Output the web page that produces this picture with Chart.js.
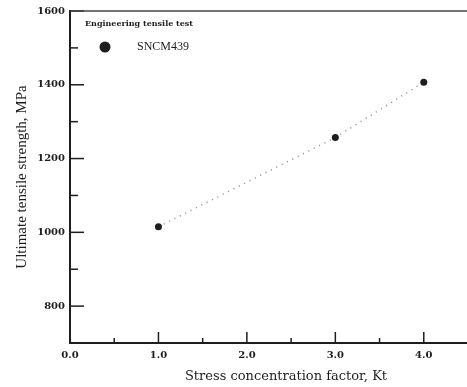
<!DOCTYPE html>
<html>
<head>
<meta charset="utf-8">
<script src="https://cdn.jsdelivr.net/npm/chart.js@4"></script>
<style>
  html, body { margin: 0; padding: 0; background: #fff; overflow: hidden; }
</style>
</head>
<body>
<canvas id="chart" width="474" height="387"></canvas>
<script>
// Dados
const kt = [1.0, 3.0, 4.0];
const uts = [1015, 1257, 1407];
const seriesName = "SNCM439";
const legendTitle = "Engineering tensile test";
const xTitle = "Stress concentration factor, Kt";
const yTitle = "Ultimate tensile strength, MPa";

const SERIF = "'Liberation Serif', 'Times New Roman', serif";
const WIDE_SERIF = "'DejaVu Serif', serif";
const INK = "#1e1e1e";

// Marcas de escala para dentro + linha superior + legenda interna + título do eixo x
const innerTicks = {
  id: "innerTicks",
  afterDraw(chart) {
    const { ctx, chartArea, scales } = chart;
    const x = scales.x;
    const y = scales.y;
    ctx.save();
    ctx.strokeStyle = INK;
    ctx.lineWidth = 1.5;

    for (let v = 700; v <= 1600; v += 100) {
      const py = y.getPixelForValue(v);
      const len = v % 200 === 0 ? 14 : 8;
      ctx.beginPath();
      ctx.moveTo(chartArea.left, py);
      ctx.lineTo(chartArea.left + len, py);
      ctx.stroke();
    }
    for (let v = 0.5; v < 4.5; v += 0.5) {
      const px = x.getPixelForValue(v);
      const len = Number.isInteger(v) ? 11 : 5;
      ctx.beginPath();
      ctx.moveTo(px, chartArea.bottom);
      ctx.lineTo(px, chartArea.bottom - len);
      ctx.stroke();
    }

    // linha superior
    ctx.strokeStyle = "#444";
    ctx.lineWidth = 1.5;
    ctx.beginPath();
    ctx.moveTo(chartArea.left, chartArea.top);
    ctx.lineTo(chartArea.right + 5, chartArea.top);
    ctx.stroke();

    // legenda
    ctx.fillStyle = INK;
    ctx.font = "bold 8px " + WIDE_SERIF;
    ctx.textBaseline = "middle";
    ctx.textAlign = "left";
    ctx.fillText(legendTitle, chartArea.left + 15, chartArea.top + 13);
    ctx.beginPath();
    ctx.arc(chartArea.left + 35, chartArea.top + 36, 5.5, 0, Math.PI * 2);
    ctx.fill();
    ctx.font = "12px " + SERIF;
    ctx.fillText(seriesName, chartArea.left + 67, chartArea.top + 36);

    // título do eixo x (deslocado para a direita como no original)
    ctx.font = "13px " + WIDE_SERIF;
    ctx.textAlign = "center";
    ctx.fillText(xTitle, chartArea.left + 216, chartArea.bottom + 34);
    ctx.restore();
  }
};

new Chart(document.getElementById("chart"), {
  type: "scatter",
  data: {
    datasets: [
      {
        label: seriesName,
        data: kt.map((k, i) => ({ x: k, y: uts[i] })),
        showLine: true,
        borderColor: "#8a8a8a",
        borderWidth: 1.5,
        borderDash: [1, 5],
        pointRadius: 3.5,
        pointBackgroundColor: INK,
        pointBorderColor: INK,
        pointBorderWidth: 0,
      },
    ],
  },
  options: {
    responsive: false,
    animation: false,
    layout: { padding: { top: 9, right: 0, left: 0, bottom: 0 } },
    plugins: {
      legend: { display: false },
      tooltip: { enabled: false },
    },
    scales: {
      x: {
        type: "linear",
        min: 0,
        max: 4.5,
        afterFit: (s) => { s.height = 44; },
        border: { color: INK, width: 2 },
        grid: { display: false, drawTicks: false },
        ticks: {
          stepSize: 0.5,
          autoSkip: false,
          maxRotation: 0,
          padding: 6,
          color: INK,
          font: { family: WIDE_SERIF, size: 10, weight: "bold" },
          callback: (v) => (Number.isInteger(v) && v <= 4 ? v.toFixed(1) : ""),
        },
      },
      y: {
        min: 700,
        max: 1600,
        afterFit: (s) => { s.width = 70; },
        border: { color: INK, width: 2 },
        grid: { display: false, drawTicks: false },
        ticks: {
          stepSize: 100,
          autoSkip: false,
          padding: 5,
          color: INK,
          font: { family: WIDE_SERIF, size: 10, weight: "bold" },
          callback: (v) => (v % 200 === 0 ? v : ""),
        },
        title: {
          display: true,
          text: yTitle,
          color: INK,
          font: { family: SERIF, size: 15 },
          padding: { top: 13, bottom: 4 },
        },
      },
    },
  },
  plugins: [innerTicks],
});
</script>
</body>
</html>
